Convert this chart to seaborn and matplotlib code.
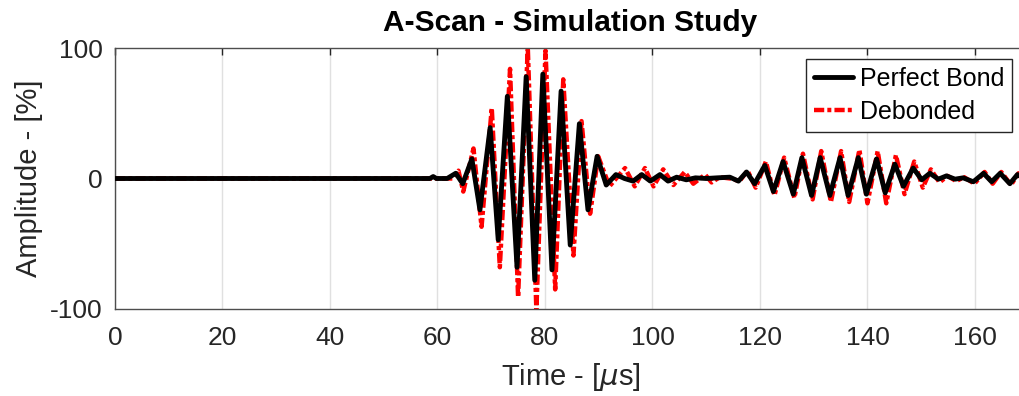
import matplotlib
matplotlib.use("Agg")
import matplotlib.pyplot as plt
import numpy as np
import pandas as pd
import seaborn as sns

# ---- data (time in microseconds, amplitude in %) ----
t_perfect = [0, 57.0, 58.6, 59.2, 59.8, 61.8, 63.4, 64.7, 66.4, 67.9,
             69.8, 71.3, 73.0, 74.8, 76.5, 78.1, 79.6, 81.3, 83.0, 84.7,
             86.4, 88.0, 89.7, 91.4, 93.2, 94.8, 96.4, 98.0, 99.6, 101.4,
             102.9, 104.5, 106.3, 108.0, 110.0, 112.0, 114.4, 116.0, 117.5, 119.0,
             120.9, 122.5, 124.3, 126.2, 127.8, 129.6, 131.2, 133.0, 134.9, 136.4,
             138.3, 139.8, 141.7, 143.3, 145.1, 146.7, 148.5, 150.1, 151.6, 153.2,
             154.7, 156.3, 157.8, 159.7, 161.6, 163.1, 164.7, 166.5, 167.9, 169.5]
v_perfect = [0, 0, 0, 1.5, 0, 0, 4, -4, 15, -24,
             39, -47, 63, -68, 78, -78, 80, -70, 67, -51,
             42, -24, 17, -5, 3, 0, -2, 3, -2, 3,
             -2, 1, -1, 0.5, 0, 0.5, 1, -2, 5, -4,
             10, -10, 13, -12, 16, -13, 16, -13, 16, -13,
             16, -12, 15, -11, 11, -6, 8, -1, 4, -0.5,
             2, -0.5, 0.5, -2.5, 4, -2.5, 4, -4, 3, -1]

t_debond = [0, 61.8, 62.9, 63.9, 64.8, 66.7, 68.2, 70.1, 71.6, 73.5,
            75.0, 76.8, 78.4, 80.1, 81.9, 83.4, 85.3, 86.8, 88.4, 89.9,
            92.0, 94.9, 96.7, 98.6, 100.2, 102.0, 103.9, 106.0, 107.6, 109.8,
            111.0, 112.5, 114.5, 116.2, 117.7, 119.2, 121.1, 122.7, 124.5, 126.4,
            128.0, 129.8, 131.4, 133.2, 135.1, 136.6, 138.5, 140.0, 141.9, 143.5,
            145.3, 146.9, 148.7, 150.3, 151.8, 153.4, 154.9, 156.5, 158.0, 159.9,
            161.8, 163.3, 164.9, 166.7, 168.1, 169.5]
v_debond = [0, 0, 0, 6, -10, 23, -37, 54, -68, 84,
            -91, 101, -101, 98, -85, 76, -59, 44, -27, 17,
            -6, 8, -6, 8, -6, 7, -5, 5, -4, 3,
            -3, 1, 0, -2, 6, -7, 13, -13, 16, -15,
            19, -16, 21, -18, 21, -18, 22, -19, 21, -19,
            18, -12, 13, -7, 7, -3, 2, -2, 1, -4,
            5, -4, 5, -5, 4, -1]

x_ticks = [0, 20, 40, 60, 80, 100, 120, 140, 160]
y_ticks = [-100, 0, 100]

sns.set_theme(style="white")
plt.rcParams["font.family"] = ["Liberation Sans", "DejaVu Sans"]
plt.rcParams["axes.unicode_minus"] = False

fig = plt.figure(figsize=(10.19, 3.96), dpi=100)
ax = fig.add_axes([115 / 1019, 87 / 396, 911 / 1019, 261 / 396])

df_db = pd.DataFrame({"t": t_debond, "v": v_debond})
df_pb = pd.DataFrame({"t": t_perfect, "v": v_perfect})

sns.lineplot(data=df_db, x="t", y="v", ax=ax, color="#ff0000", lw=3.2,
             estimator=None, sort=False, label="Debonded", zorder=2)
sns.lineplot(data=df_pb, x="t", y="v", ax=ax, color="black", lw=3.5,
             estimator=None, sort=False, label="Perfect Bond", zorder=3)

line_db, line_pb = ax.lines[0], ax.lines[1]
line_db.set_dashes([2.3, 0.7, 0.9, 0.7])
for ln in (line_db, line_pb):
    ln.set_solid_joinstyle("round")
    ln.set_dash_joinstyle("round")

ax.set_xlim(0, 169.5)
ax.set_ylim(-100, 100)
ax.set_xticks(x_ticks)
ax.set_yticks(y_ticks)
ax.tick_params(direction="in", length=5, width=1, top=True, right=True,
               labelsize=19, colors="#262626")
ax.tick_params(axis="x", pad=12)
ax.tick_params(axis="y", pad=9)
ax.grid(axis="x", color="#e0e0e0", lw=1)
ax.set_axisbelow(True)
for s in ax.spines.values():
    s.set_color("#4d4d4d")
    s.set_linewidth(1)

ax.set_title("A-Scan - Simulation Study", fontsize=21.5, fontweight="bold",
             color="black", pad=12)
ax.set_xlabel(r"Time - [$\mu$s]", fontsize=21, color="#262626", labelpad=8)
ax.set_ylabel("Amplitude - [%]", fontsize=21, color="#262626", labelpad=5)

handles, labels = ax.get_legend_handles_labels()
order = [labels.index("Perfect Bond"), labels.index("Debonded")]
leg = ax.legend([handles[i] for i in order], [labels[i] for i in order],
                loc="upper right", bbox_to_anchor=(1012 / 1019, 1 - 59 / 396),
                bbox_transform=fig.transFigure, borderaxespad=0,
                fontsize=18, frameon=True, fancybox=False, framealpha=1,
                edgecolor="#262626", handlelength=1.55, handletextpad=0.3,
                borderpad=0.3, labelspacing=0.38)
leg.get_frame().set_linewidth(1)
for txt in leg.get_texts():
    txt.set_color("black")

fig.savefig("out.png", dpi=100)
